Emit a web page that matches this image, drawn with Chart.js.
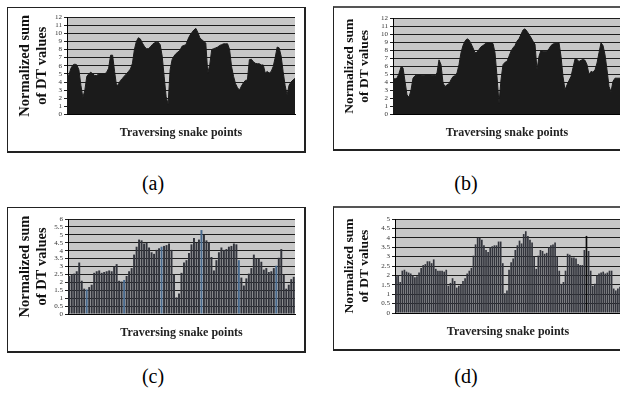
<!DOCTYPE html>
<html>
<head>
<meta charset="utf-8">
<script src="https://cdn.jsdelivr.net/npm/chart.js@4.4.1/dist/chart.umd.min.js"></script>
<style>
  html, body { margin: 0; padding: 0; background: #fff; overflow: hidden; }
  body { width: 620px; height: 394px; position: relative; }
  .frame { position: absolute; box-sizing: border-box; border: 1px solid #222; border-right-width: 2px; border-bottom-width: 2px; }
  .frame.cut { border-top: 2px solid #555; border-right: none; }
  canvas { position: absolute; }
  .tag { position: absolute; font: 20px 'Liberation Serif', 'DejaVu Serif', serif; color: #000; transform: translate(-50%, -50%); }
</style>
</head>
<body>
<div class="frame" style="left:7px;top:7px;width:299px;height:146px"></div>
<div class="frame cut" style="left:333px;top:6px;width:300px;height:145px"></div>
<div class="frame" style="left:7px;top:207px;width:299px;height:146px"></div>
<div class="frame cut" style="left:333px;top:206px;width:300px;height:145px"></div>

<canvas id="chartA" width="298" height="145" style="left:7px;top:7px;width:298px;height:145px"></canvas>
<canvas id="chartB" width="298" height="144" style="left:333px;top:6px;width:298px;height:144px"></canvas>
<canvas id="chartC" width="298" height="145" style="left:7px;top:207px;width:298px;height:145px"></canvas>
<canvas id="chartD" width="298" height="144" style="left:333px;top:206px;width:298px;height:144px"></canvas>

<div class="tag" id="tagA" style="left:153px;top:183px"></div>
<div class="tag" id="tagB" style="left:466px;top:183px"></div>
<div class="tag" id="tagC" style="left:153px;top:376px"></div>
<div class="tag" id="tagD" style="left:466px;top:376px"></div>

<script>
const xTitle = 'Traversing snake points';
const yTitle = ['Normalized sum', 'of DT values'];
const panelTags = ['(a)', '(b)', '(c)', '(d)'];

const valuesA = [4.7, 4.9, 5.7, 6.1, 6.2, 6.1, 5.5, 3.6, 2.1, 3.0,
  4.7, 5.0, 5.2, 5.0, 4.8, 4.8, 5.0, 5.0, 5.0, 5.0,
  5.2, 5.7, 7.3, 7.3, 5.3, 3.5, 3.75, 4.2, 4.45, 4.75,
  5.0, 5.3, 5.6, 6.3, 8.0, 9.0, 9.45, 9.3, 8.8, 8.4,
  8.1, 8.1, 8.3, 8.6, 8.8, 8.9, 8.9, 8.6, 7.2, 4.7,
  2.2, 1.25, 5.5, 6.75, 7.2, 7.5, 7.7, 7.9, 8.4, 8.5,
  8.6, 9.25, 9.75, 10.1, 10.4, 10.6, 10.1, 9.45, 9.2, 9.0,
  8.8, 5.1, 6.1, 8.0, 8.1, 8.2, 8.3, 8.5, 8.6, 8.7,
  8.7, 8.7, 8.0, 5.9, 4.7, 3.8, 3.3, 3.0, 3.5, 3.9,
  4.2, 4.25, 6.75, 6.8, 6.5, 6.3, 6.25, 6.25, 6.1, 6.1,
  5.1, 5.3, 5.1, 5.3, 5.9, 7.0, 8.3, 8.2, 7.2, 5.3,
  3.6, 2.4, 3.6, 4.0, 4.25, 4.45];

const valuesB = [4.5, 4.4, 4.5, 5.1, 5.9, 5.8, 4.1, 2.4, 2.1, 3.0,
  4.5, 4.8, 4.9, 4.9, 4.9, 4.85, 4.9, 4.9, 4.9, 4.9,
  4.85, 4.85, 5.15, 6.8, 6.2, 3.9, 3.45, 3.65, 3.8, 4.3,
  4.7, 4.8, 5.15, 6.2, 7.7, 8.6, 9.15, 9.45, 9.3, 8.85,
  8.3, 7.7, 7.75, 8.1, 8.45, 8.6, 8.8, 8.95, 8.95, 8.95,
  8.85, 7.7, 4.7, 1.35, 4.3, 6.2, 6.5, 6.6, 7.25, 7.9,
  8.3, 8.6, 9.15, 9.45, 10.0, 10.55, 10.7, 10.4, 10.0, 9.6,
  9.15, 8.75, 5.55, 7.25, 8.0, 7.9, 7.9, 7.9, 8.2, 8.6,
  8.8, 8.85, 8.85, 8.95, 7.25, 4.7, 3.05, 3.65, 4.2, 4.7,
  5.8, 6.9, 6.85, 6.6, 6.75, 6.85, 6.75, 6.2, 4.95, 5.35,
  5.25, 5.55, 6.4, 7.7, 8.95, 8.6, 7.45, 5.55, 3.45, 2.8,
  4.1, 4.5, 4.5, 4.5, 4.5];

const valuesC = [2.4, 2.5, 2.55, 2.7, 3.25, 2.1, 1.6, 1.55, 1.7, 1.85,
  2.6, 2.7, 2.75, 2.6, 2.65, 2.7, 2.75, 2.7, 3.0, 3.15,
  2.1, 2.05, 2.15, 2.4, 2.7, 2.9, 3.75, 4.25, 4.7, 4.65,
  4.45, 4.5, 4.2, 3.9, 3.8, 4.05, 4.15, 4.25, 4.3, 4.35,
  4.45, 4.05, 2.5, 1.05, 1.3, 2.6, 3.25, 3.4, 3.85, 4.4,
  4.8, 4.5, 4.7, 5.3, 5.0, 4.65, 4.55, 3.6, 2.75, 3.4,
  3.9, 4.2, 4.05, 4.1, 4.25, 4.3, 4.45, 4.4, 3.4, 2.3,
  1.8, 2.25, 2.55, 2.9, 3.75, 3.5, 3.5, 3.3, 2.8, 2.9,
  2.65, 2.7, 2.9, 3.05, 3.55, 4.1, 2.5, 1.6, 1.85, 2.2,
  2.35];

const valuesD = [1.95, 2.0, 1.65, 2.25, 2.3, 2.2, 2.15, 2.1, 2.0, 1.9,
  1.95, 2.15, 2.4, 2.55, 2.6, 2.75, 2.75, 2.65, 2.85, 2.35,
  2.25, 2.25, 2.25, 2.2, 2.3, 1.45, 1.6, 1.85, 1.7, 1.35,
  1.45, 1.5, 1.7, 1.85, 2.1, 2.25, 2.4, 3.05, 3.65, 4.0,
  4.0, 3.9, 3.6, 3.35, 3.25, 3.5, 3.55, 3.6, 3.6, 3.8,
  3.8, 2.65, 1.05, 1.2, 2.3, 2.7, 2.9, 3.35, 3.6, 3.85,
  3.7, 4.2, 4.35, 4.1, 3.9, 3.75, 3.0, 2.35, 3.05, 3.35,
  3.3, 3.15, 3.2, 3.5, 3.6, 3.65, 3.75, 3.0, 2.25, 1.55,
  1.65, 2.25, 3.15, 3.1, 2.95, 2.95, 2.9, 2.6, 2.55, 2.55,
  3.35, 4.1, 3.3, 2.25, 1.45, 1.55, 2.0, 2.1, 2.15, 2.2,
  2.1, 2.15, 2.25, 2.25, 1.3, 1.2, 1.3, 1.4];

// bars drawn in the bluish tone / the thin black spike
const blueBarsC = [7, 22, 37, 53, 68, 83];
const spikeBarsD = [91];

const serif = "'Liberation Serif', 'DejaVu Serif', serif";

const plotBackground = {
    id: 'plotBackground',
    beforeDraw(chart) {
        const { ctx, chartArea: a } = chart;
        ctx.save();
        ctx.fillStyle = '#c8c8c8';
        ctx.fillRect(a.left, a.top, a.right - a.left, a.bottom - a.top);
        ctx.restore();
    }
};

function makePanel(id, kind, values, yMax, yStep, box) {
    const labels = values.map((v, i) => i + 1);
    let dataset;
    if (kind === 'area') {
        dataset = {
            data: values,
            fill: 'origin',
            backgroundColor: '#1b1b1b',
            borderColor: '#1b1b1b',
            borderWidth: 1,
            pointRadius: 0,
            tension: 0
        };
    } else {
        dataset = {
            data: values,
            backgroundColor: ctx => box.barColor(ctx.dataIndex),
            borderWidth: 0,
            barPercentage: box.barPct,
            categoryPercentage: 1
        };
    }

    return new Chart(document.getElementById(id), {
        type: kind === 'area' ? 'line' : 'bar',
        data: { labels: labels, datasets: [dataset] },
        options: {
            responsive: false,
            animation: false,
            layout: { padding: { top: box.top, right: 10, left: 2, bottom: 0 } },
            plugins: { legend: { display: false }, tooltip: { enabled: false } },
            scales: {
                x: {
                    ticks: { display: false },
                    grid: { display: false },
                    border: { display: true, color: '#000' },
                    title: {
                        display: true,
                        text: xTitle,
                        color: '#222',
                        font: { family: serif, size: 12, weight: 'bold', lineHeight: 1.2 },
                        padding: { top: 0, bottom: box.xPad }
                    },
                    afterFit: s => { s.height = box.xHeight; }
                },
                y: {
                    min: 0,
                    max: yMax,
                    ticks: {
                        stepSize: yStep,
                        autoSkip: false,
                        color: '#333',
                        padding: 2,
                        font: { family: serif, size: 7, lineHeight: 1 },
                        callback: v => String(v)
                    },
                    grid: { color: '#1e1e1e', tickLength: 3 },
                    border: { color: '#000' },
                    title: {
                        display: true,
                        text: yTitle,
                        color: '#111',
                        font: { family: serif, size: box.ySize, weight: 'bold', lineHeight: box.yLine },
                        padding: { top: box.yPad, bottom: 0 }
                    },
                    afterFit: s => { s.width = box.left - 2; }
                }
            }
        },
        plugins: [plotBackground]
    });
}

['tagA', 'tagB', 'tagC', 'tagD'].forEach((id, i) => {
    document.getElementById(id).textContent = panelTags[i];
});

makePanel('chartA', 'area', valuesA, 12, 1, {
    left: 60, top: 10, xHeight: 37.5, xPad: 11.8, ySize: 14.5, yLine: 1.17, yPad: 7.5
});
makePanel('chartB', 'area', valuesB, 12, 1, {
    left: 60, top: 12.5, xHeight: 36, xPad: 9.8, ySize: 13.5, yLine: 1.1, yPad: 7.5
});
makePanel('chartC', 'bar', valuesC, 6, 0.5, {
    left: 61, top: 12, xHeight: 38, xPad: 12.1, ySize: 14.5, yLine: 1.17, yPad: 7.5, barPct: 0.78,
    barColor: i => blueBarsC.includes(i) ? '#46688c' : '#31333b'
});
makePanel('chartD', 'bar', valuesD, 5, 0.5, {
    left: 62, top: 13, xHeight: 37, xPad: 11.1, ySize: 13.5, yLine: 1.1, yPad: 7.5, barPct: 0.8,
    barColor: i => spikeBarsD.includes(i) ? '#0c0c0c' : '#32343c'
});
</script>
</body>
</html>
